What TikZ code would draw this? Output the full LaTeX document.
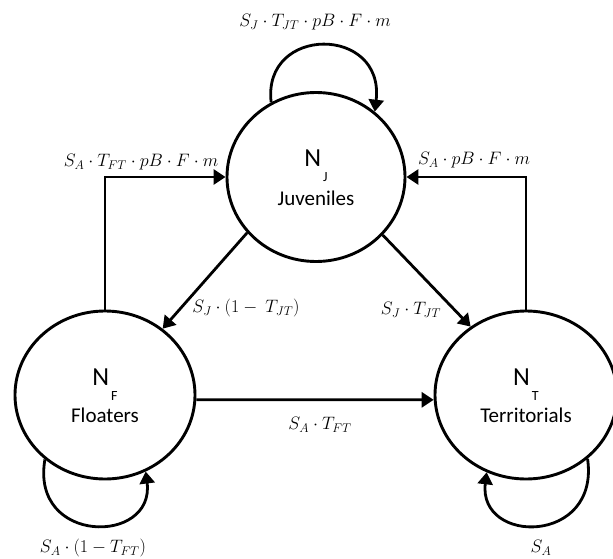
\RequirePackage{fix-cm}
\documentclass[tikz,border=0pt]{standalone}
\usepackage{fontspec}
\setmainfont{Carlito}
\usetikzlibrary{arrows.meta,shapes.geometric,calc}
\begin{document}
\begin{tikzpicture}[x=1pt,y=-1pt,
  state/.style={ellipse,draw,line width=2.9pt,inner sep=0pt},
  conn/.style={line width=2.8pt,-{Triangle[length=12pt,width=15pt]}},
  lab/.style={font=\fontsize{18}{21}\selectfont,inner sep=1pt},
  bigN/.style={font=\fontsize{26}{26}\selectfont,anchor=base,inner sep=0pt},
  statename/.style={font=\fontsize{21}{24}\selectfont,anchor=base,inner sep=0pt}]
\useasboundingbox (0,0) rectangle (613,559);

\node[state,minimum width=178pt,minimum height=169pt] (J) at (316,177) {};
\node[state,minimum width=180pt,minimum height=168pt] (F) at (105,395) {};
\node[state,minimum width=182pt,minimum height=168pt] (T) at (526,395) {};

\newcommand{\sublow}[1]{\smash{\kern2pt\raisebox{-15pt}{\fontsize{14}{14}\selectfont #1}}}
\node[bigN] (Jn) at ($(J)+(0,-10)$) {N\sublow{J}};
\node[statename] (Jl) at ($(J)+(0,28)$) {Juveniles};
\node[bigN] (Fn) at ($(F)+(0,-10)$) {N\sublow{F}};
\node[statename] (Fl) at ($(F)+(0,27)$) {Floaters};
\node[bigN] (Tn) at ($(T)+(0,-10)$) {N\sublow{T}};
\node[statename] (Tl) at ($(T)+(0,27)$) {Territorials};

\draw[conn] (F.north) |- (J.west);
\draw[conn] (T.north) |- (J.east);
\draw[conn] (J.219) -- (F.49);
\draw[conn] (J.319) -- (T.129);
\draw[conn] (F.-3) -- (T.183);
\draw[conn] (J.121) .. controls (262,25) and (385,25) .. (J.48);
\draw[conn] (F.227) .. controls (30,545) and (155,545) .. (F.298);
\draw[conn] (T.314) .. controls (600,545) and (478,545) .. (T.243);

\node[lab] (l1) at (315,22) {$S_J\cdot T_{JT}\cdot pB\cdot F\cdot m$};
\node[lab] (l2) at (141,162) {$S_A\cdot T_{FT}\cdot pB\cdot F\cdot m$};
\node[lab] (l3) at (474,160) {$S_A\cdot pB\cdot F\cdot m$};
\node[lab] (l4) at (246,308) {$S_J\cdot(1-\ T_{JT})$};
\node[lab] (l5) at (411,310) {$S_J\cdot T_{JT}$};
\node[lab] (l6) at (320,425) {$S_A\cdot T_{FT}$};
\node[lab] (l7) at (93,548) {$S_A\cdot(1-T_{FT})$};
\node[lab] (l8) at (541,548) {$S_A$};
\end{tikzpicture}
\end{document}
